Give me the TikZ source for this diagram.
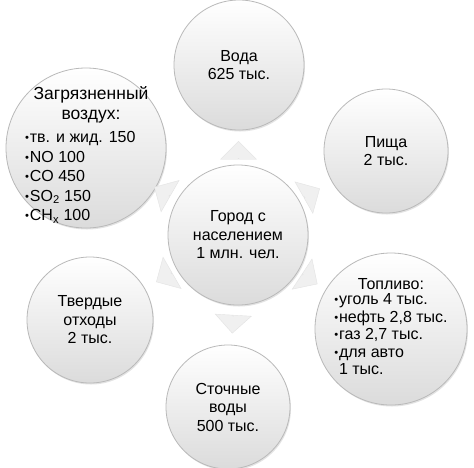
\documentclass[tikz,border=0pt]{standalone}
\usepackage{fontspec}
\usepackage{graphicx}
\setmainfont{Liberation Sans}
\usetikzlibrary{shapes.arrows,shadows,calc}
\newcommand\bul{\raisebox{0.06em}{\scalebox{0.7}{•}}\hspace{0.8pt}}
\begin{document}
\begin{tikzpicture}[x=1pt,y=-1pt,
  bub/.style={circle, draw=gray!55, line width=0.8pt, top color=white, bottom color=gray!28,
    align=center, inner sep=0pt, font=\fontsize{16}{18.5}\selectfont,
    drop shadow={opacity=0.22, shadow xshift=1pt, shadow yshift=-1.5pt}},
  txt/.style={inner sep=0pt, align=center},
  flow/.style={single arrow, draw=gray!22, line width=0.4pt, fill=gray!12, minimum height=17pt,
    minimum width=36pt, single arrow head extend=8pt, inner sep=0pt, anchor=center}]
\useasboundingbox[fill=white] (0,0) rectangle (474,467);
\node[bub, minimum size=130pt] (water) at (239,65) {Вода\\625 тыс.};
\node[bub, minimum size=124pt] (food) at (386,151) {Пища\\2 тыс.};
\node[bub, minimum size=140pt] (city) at (238,235) {Город с\\населением\\1 млн. чел.};
\node[bub, minimum size=152pt, font=\fontsize{16}{17.5}\selectfont] (fuel) at (391,329) {Топливо:\\[2pt]\begin{tabular}{@{}l@{}}\bul уголь 4 тыс.\\\bul нефть 2,8 тыс.\\\bul газ 2,7 тыс.\\\bul для авто\\\hphantom{\bul}1 тыс.\end{tabular}};
\node[bub, minimum size=124pt] (sew) at (228,407) {Сточные\\воды\\500 тыс.};
\node[bub, minimum size=126pt] (solid) at (90,320) {Твердые\\отходы\\2 тыс.};
\node[bub, minimum size=160pt] (air) at (86,148) {};
\node[txt, font=\fontsize{17.5}{19.5}\selectfont] (airhead) at (91,105) {Загрязненный\\воздух:};
\node[txt, anchor=west, font=\fontsize{16}{19.5}\selectfont] (airlist) at (25,178) {\begin{tabular}{@{}l@{}}\bul тв. и жид. 150\\\bul NO 100\\\bul CO 450\\\bul SO\textsubscript{2} 150\\\bul CH\textsubscript{x} 100\end{tabular}};
\node[flow, rotate=90] (a1) at ($(city)!0.5!(water)$) {};
\node[flow, rotate=29.6] (a2) at ($(city)!0.5!(food)$) {};
\node[flow, rotate=-33.2] (a3) at ($(city)!0.47!(fuel)$) {};
\node[flow, rotate=-93.3] (a4) at ($(city)!0.52!(sew)$) {};
\node[flow, rotate=209.9] (a5) at ($(city)!0.5!(solid)$) {};
\node[flow, rotate=150.2] (a6) at ($(city)!0.5!(air)$) {};
\end{tikzpicture}
\end{document}
